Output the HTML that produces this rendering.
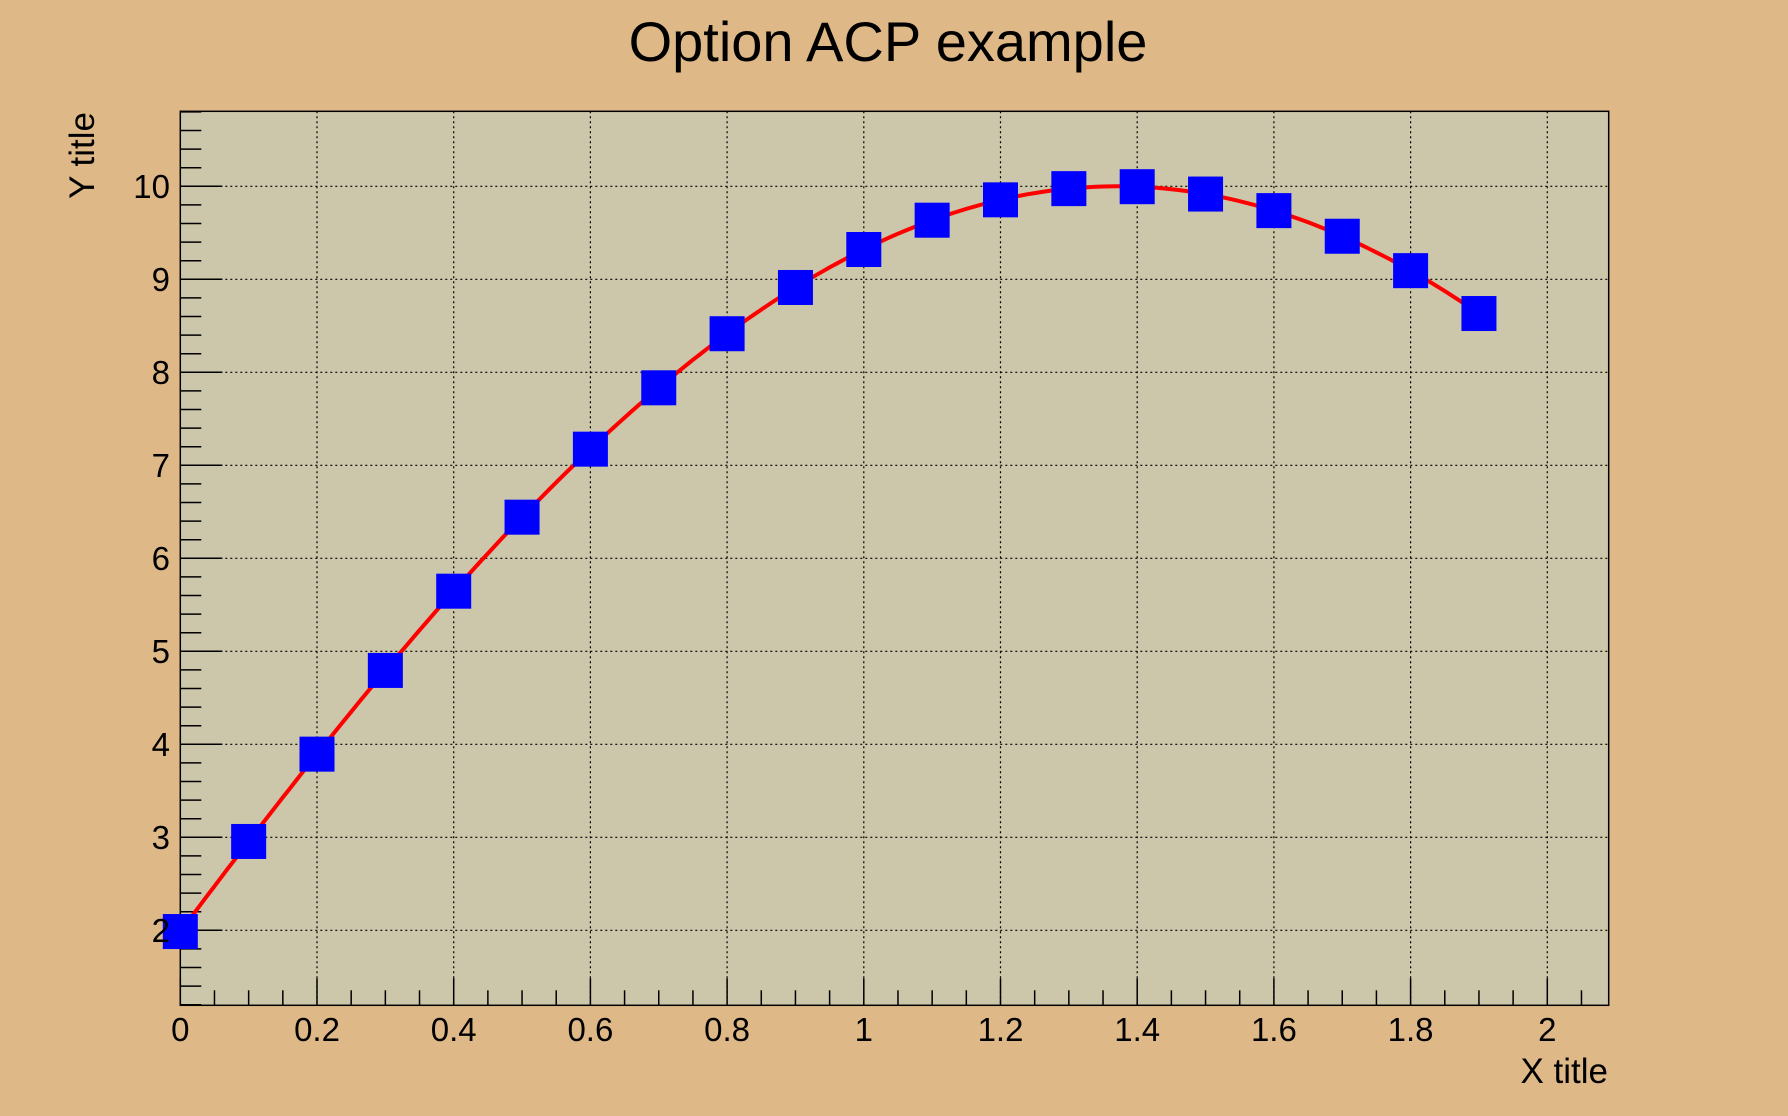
<!DOCTYPE html>
<html><head><meta charset="utf-8"><style>
html,body{margin:0;padding:0;background:#deb887;}
svg{display:block;font-family:"Liberation Sans",Arial,sans-serif;}
</style></head><body>
<svg width="1788" height="1116" viewBox="0 0 1788 1116" xmlns="http://www.w3.org/2000/svg">
<rect width="1788" height="1116" fill="#deb887"/>
<rect x="180.3" y="111.3" width="1428.4" height="894" fill="#ccc6aa"/>
<g stroke="#000" stroke-width="1.2" stroke-dasharray="2,3">
<line x1="317" y1="111.3" x2="317" y2="1005.3"/><line x1="453.7" y1="111.3" x2="453.7" y2="1005.3"/><line x1="590.4" y1="111.3" x2="590.4" y2="1005.3"/><line x1="727.1" y1="111.3" x2="727.1" y2="1005.3"/><line x1="863.8" y1="111.3" x2="863.8" y2="1005.3"/><line x1="1000.5" y1="111.3" x2="1000.5" y2="1005.3"/><line x1="1137.2" y1="111.3" x2="1137.2" y2="1005.3"/><line x1="1273.9" y1="111.3" x2="1273.9" y2="1005.3"/><line x1="1410.6" y1="111.3" x2="1410.6" y2="1005.3"/><line x1="1547.3" y1="111.3" x2="1547.3" y2="1005.3"/>
<line x1="180.3" y1="930.3" x2="1608.7" y2="930.3"/><line x1="180.3" y1="837.3" x2="1608.7" y2="837.3"/><line x1="180.3" y1="744.3" x2="1608.7" y2="744.3"/><line x1="180.3" y1="651.3" x2="1608.7" y2="651.3"/><line x1="180.3" y1="558.3" x2="1608.7" y2="558.3"/><line x1="180.3" y1="465.3" x2="1608.7" y2="465.3"/><line x1="180.3" y1="372.3" x2="1608.7" y2="372.3"/><line x1="180.3" y1="279.3" x2="1608.7" y2="279.3"/><line x1="180.3" y1="186.3" x2="1608.7" y2="186.3"/>
</g>
<g id="ticks" stroke="#000" stroke-width="1.5"></g>
<rect x="180.3" y="111.3" width="1428.4" height="894" fill="none" stroke="#000" stroke-width="1.5"/>
<polyline id="curve" fill="none" stroke="#ff0000" stroke-width="4" stroke-linejoin="round" points="180.3,931.5 248.6,841.5 317,754.1 385.3,670.4 453.7,591.2 522,517.2 590.3,449.2 658.7,387.8 727,333.7 795.4,287.5 863.7,249.5 932,220.2 1000.4,199.8 1068.7,188.6 1137.1,186.7 1205.4,194.1 1273.7,210.6 1342.1,236.2 1410.4,270.7 1478.8,313.5"/>
<g fill="#0000ff" id="marks"></g>
<g font-size="33" fill="#000" text-anchor="middle">
<text x="180.3" y="1041">0</text><text x="317" y="1041">0.2</text><text x="453.7" y="1041">0.4</text><text x="590.4" y="1041">0.6</text><text x="727.1" y="1041">0.8</text><text x="863.8" y="1041">1</text><text x="1000.5" y="1041">1.2</text><text x="1137.2" y="1041">1.4</text><text x="1273.9" y="1041">1.6</text><text x="1410.6" y="1041">1.8</text><text x="1547.3" y="1041">2</text>
</g>
<g font-size="33" fill="#000" text-anchor="end">
<text x="170" y="942">2</text><text x="170" y="849">3</text><text x="170" y="756">4</text><text x="170" y="663">5</text><text x="170" y="570">6</text><text x="170" y="477">7</text><text x="170" y="384">8</text><text x="170" y="291">9</text><text x="170" y="198">10</text>
</g>
<g font-size="35" fill="#000" text-anchor="end">
<text x="1608" y="1083">X title</text>
<text transform="translate(94,112) rotate(-90)">Y title</text>
</g>
<text x="888" y="61" font-size="56" text-anchor="middle" fill="#000">Option ACP example</text>
</svg>
<script>
(function(){
var ns="http://www.w3.org/2000/svg",t=document.getElementById("ticks"),m=document.getElementById("marks");
function L(a,b,c,d){var l=document.createElementNS(ns,"line");l.setAttribute("x1",a);l.setAttribute("y1",b);l.setAttribute("x2",c);l.setAttribute("y2",d);t.appendChild(l);}
for(var i=0;i<=41;i++){var x=180.3+683.5*i*0.05;if(x>1608)break;L(x,1005.3,x,1005.3-(i%4==0?27:15));}
for(var j=0;j<=48;j++){var v=1.2+j*0.2;var y=930.3-(v-2)*93;if(y<111.3)break;var maj=Math.abs(v-Math.round(v))<1e-6;L(180.3,y,180.3+(maj?42:21),y);}
var pts=[];for(var k=0;k<=190;k++){var xv=k/100;var yv=10*Math.sin(xv+0.2);pts.push((180.3+683.5*xv).toFixed(1)+","+(930.3-(yv-2)*93).toFixed(1));}
document.getElementById("curve").setAttribute("points",pts.join(" "));
for(var n=0;n<20;n++){var xv=n/10,yv=10*Math.sin(xv+0.2);var r=document.createElementNS(ns,"rect");r.setAttribute("x",180.3+683.5*xv-17.5);r.setAttribute("y",930.3-(yv-2)*93-17.5);r.setAttribute("width",35);r.setAttribute("height",35);m.appendChild(r);}
})();
</script>
</body></html>
